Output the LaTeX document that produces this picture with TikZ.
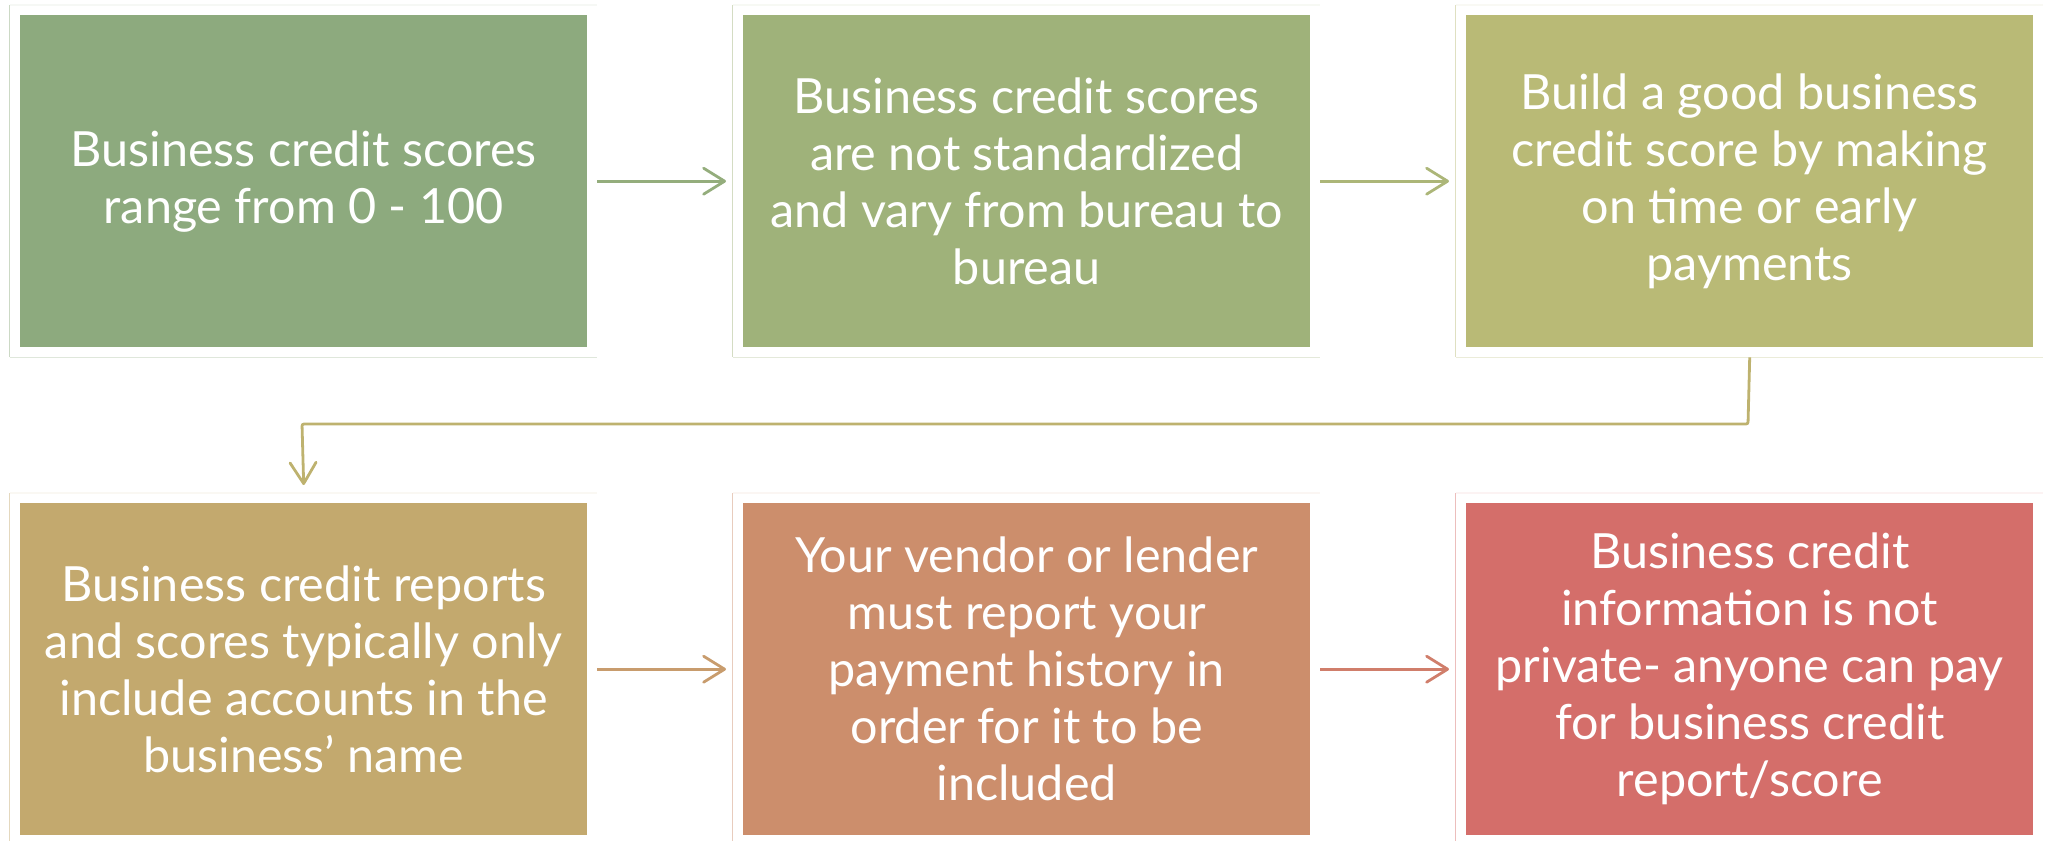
\documentclass[tikz,border=0pt]{standalone}
\usepackage{fontspec}
\setmainfont{Lato}
\usetikzlibrary{arrows.meta}
\definecolor{cA}{HTML}{8DAA7E}
\definecolor{cB}{HTML}{9FB27A}
\definecolor{cC}{HTML}{B9BA76}
\definecolor{cD}{HTML}{C3A96E}
\definecolor{cE}{HTML}{CC8E6C}
\definecolor{cF}{HTML}{D46E6A}
\definecolor{aA}{HTML}{94AD7C}
\definecolor{aB}{HTML}{ACB678}
\definecolor{aC}{HTML}{BEB26F}
\definecolor{aD}{HTML}{C89C6D}
\definecolor{aE}{HTML}{D07E6B}
\tikzset{
  box/.style={draw=none, fill=#1, minimum width=567pt, minimum height=332pt,
    inner sep=0pt, text=white, align=center, anchor=north west,
    font=\fontsize{48.5}{57}\selectfont},
  flow/.style={line width=2.8pt, -{Straight Barb[length=21pt,width=26pt,round]}},
  frameL/.style={line width=1.5pt, draw=#1!45},
  frameB/.style={line width=1.5pt, draw=#1!28},
  frameT/.style={line width=1.5pt, draw=#1!8},
}
\newcommand{\myboxframe}[2]{%
  \draw[frameT=#2] ([xshift=-10.5pt,yshift=10pt]#1.north west) -- ([xshift=10pt,yshift=10pt]#1.north east);
  \draw[frameB=#2] ([xshift=-10.5pt,yshift=-10pt]#1.south west) -- ([xshift=10pt,yshift=-10pt]#1.south east);
  \draw[frameL=#2] ([xshift=-10.5pt,yshift=10pt]#1.north west) -- ([xshift=-10.5pt,yshift=-10pt]#1.south west);
}
\begin{document}
\begin{tikzpicture}[x=1pt,y=-1pt]
\useasboundingbox (0,0) rectangle (2049,840);
\node[box=cA] (b1) at (20,15) {Business credit scores\\range from 0 - 100};
\node[box=cB] (b2) at (743,15) {Business credit scores\\are not standardized\\and vary from bureau to\\bureau};
\node[box=cC] (b3) at (1466,15) {Build a good business\\credit score by making\\on time or early\\payments};
\node[box=cD] (b4) at (20,503) {Business credit reports\\and scores typically only\\include accounts in the\\business’ name};
\node[box=cE] (b5) at (743,503) {Your vendor or lender\\must report your\\payment history in\\order for it to be\\included};
\node[box=cF] (b6) at (1466,503) {Business credit\\information is not\\private- anyone can pay\\for business credit\\report/score};
\myboxframe{b1}{cA}
\myboxframe{b2}{cB}
\myboxframe{b3}{cC}
\myboxframe{b4}{cD}
\myboxframe{b5}{cE}
\myboxframe{b6}{cF}
\draw[flow, draw=aA] ([xshift=10pt]b1.east) -- ([xshift=-17pt]b2.west);
\draw[flow, draw=aB] ([xshift=10pt]b2.east) -- ([xshift=-17pt]b3.west);
\coordinate (k1) at (1748,424);
\coordinate (k2) at (302,424);
\draw[flow, draw=aC, rounded corners=2pt] ([yshift=-10pt]b3.south) -- (k1) -- (k2) -- ([yshift=18pt]b4.north);
\draw[flow, draw=aD] ([xshift=10pt]b4.east) -- ([xshift=-17pt]b5.west);
\draw[flow, draw=aE] ([xshift=10pt]b5.east) -- ([xshift=-17pt]b6.west);
\end{tikzpicture}
\end{document}
